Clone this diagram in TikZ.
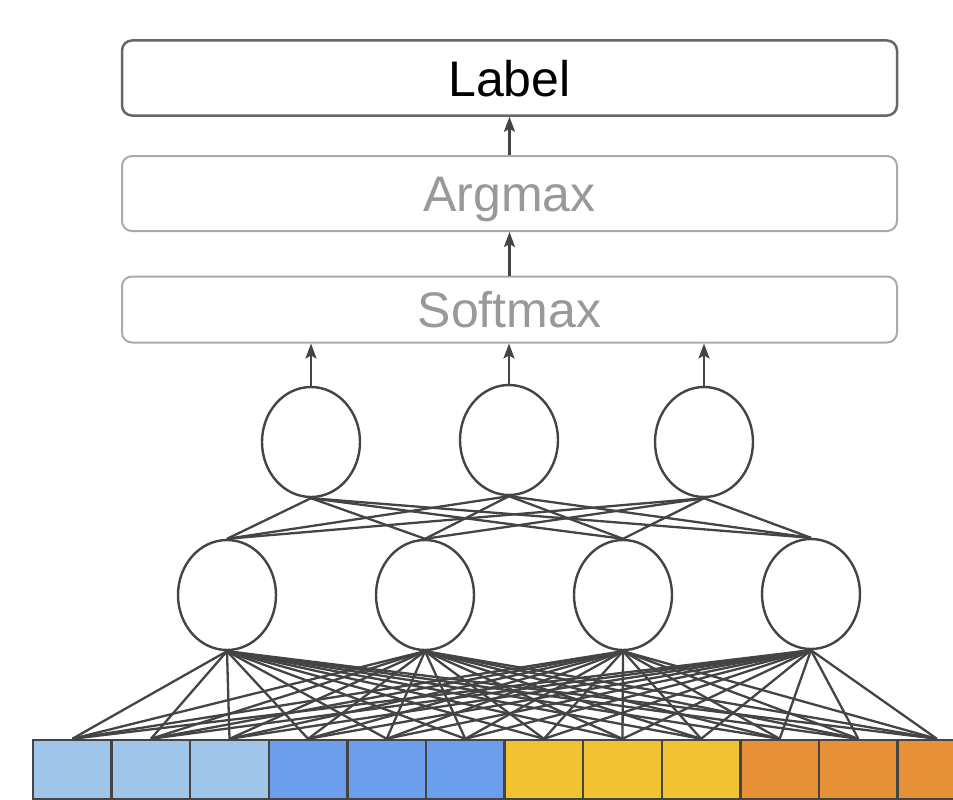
\documentclass[tikz,border=0pt]{standalone}
\usepackage{fontspec}
\setmainfont{Liberation Sans}
\usetikzlibrary{arrows.meta,shapes.geometric,backgrounds}
\definecolor{edge}{HTML}{444444}
\definecolor{boxdark}{HTML}{666666}
\definecolor{boxlight}{HTML}{AAAAAA}
\definecolor{textlight}{HTML}{999999}
\definecolor{cellA}{HTML}{9FC5E8}
\definecolor{cellB}{HTML}{6D9EEB}
\definecolor{cellC}{HTML}{F1C232}
\definecolor{cellD}{HTML}{E69138}
\tikzset{
  stagebox/.style={draw=boxlight, line width=2pt, rounded corners=10pt,
    minimum width=775pt, inner sep=0pt, text=textlight,
    font=\fontsize{50}{60}\selectfont, text height=36pt, text depth=0pt},
  neuron/.style={ellipse, draw=edge, fill=white, line width=2.4pt,
    minimum width=98pt, minimum height=110pt, inner sep=0pt},
  cell/.style={draw=edge, line width=2.4pt, minimum width=78.6pt,
    minimum height=59pt, inner sep=0pt},
  wire/.style={draw=edge, line width=2.3pt},
  uparrow/.style={draw=edge, line width=2.3pt,
    -{Stealth[length=15pt,width=11pt,inset=3pt]}}
}
\begin{document}
\begin{tikzpicture}[x=1pt,y=-1pt]
\useasboundingbox (0,0) rectangle (953,800);
\clip (0,0) rectangle (953,800);

% stages at the top
\node[stagebox, draw=boxdark, line width=2.5pt, text=black, minimum height=75pt] (label) at (509.5,78) {Label};
\node[stagebox, minimum height=75pt] (argmax) at (509.5,193.5) {Argmax};
\node[stagebox, minimum height=66pt] (softmax) at (509.5,309.5) {Softmax};

% output neurons
\node[neuron] (o1) at (311,442) {};
\node[neuron] (o2) at (509,440) {};
\node[neuron] (o3) at (704,442) {};

% hidden neurons
\node[neuron] (h1) at (227,595) {};
\node[neuron] (h2) at (425,595) {};
\node[neuron] (h3) at (623,595) {};
\node[neuron] (h4) at (811,594) {};

% input cells
\foreach \i/\c in {1/cellA,2/cellA,3/cellA,4/cellB,5/cellB,6/cellB,
                   7/cellC,8/cellC,9/cellC,10/cellD,11/cellD,12/cellD}
  \node[cell, fill=\c] (c\i) at ({33+78.6*(\i-0.5)},769.5) {};

% dense connections, kept behind the neurons and cells
\begin{scope}[on background layer]
\foreach \h in {1,...,4}
  \foreach \i in {1,...,12}
    \draw[wire] (h\h.south) -- (c\i.north);
\foreach \o in {1,2,3}
  \foreach \h in {1,...,4}
    \draw[wire] (o\o.south) -- (h\h.north);
\end{scope}

% arrows
\draw[uparrow] (argmax.north) -- (label.south);
\draw[uparrow] (softmax.north) -- (argmax.south);
\foreach \o in {1,2,3}
  \draw[uparrow] (o\o.north) -- (o\o.north |- softmax.south);
\end{tikzpicture}
\end{document}
